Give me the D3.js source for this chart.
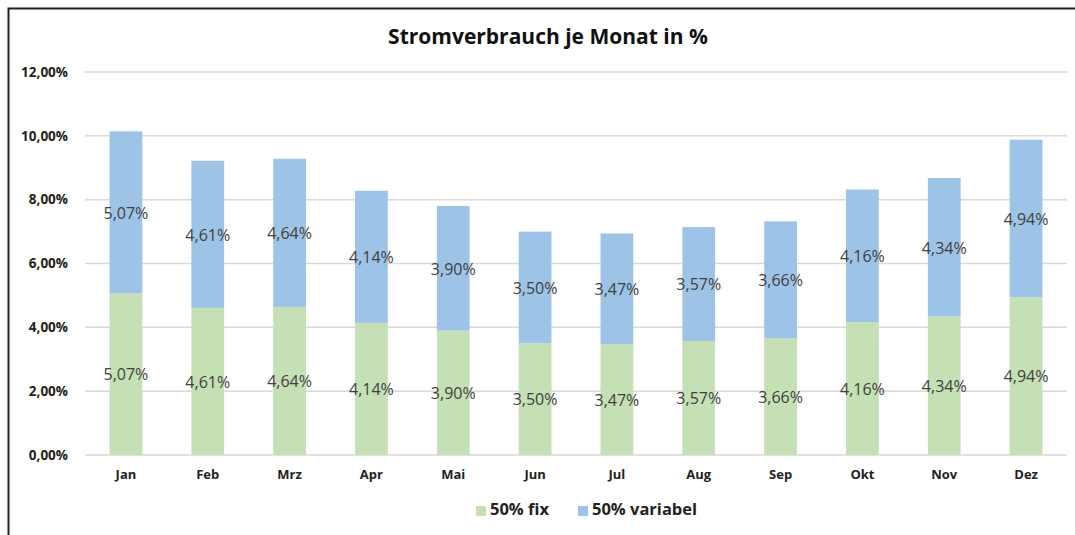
<!DOCTYPE html>
<html>
<head>
<meta charset="utf-8">
<script src="https://cdn.jsdelivr.net/npm/d3@7"></script>
<style>
	body { margin: 0; background: #fff; }
	svg { display: block; font-family: 'Open Sans', 'Noto Sans', sans-serif; }
</style>
</head>
<body>
<div id="chart"></div>
<script>
const months = ['Jan', 'Feb', 'Mrz', 'Apr', 'Mai', 'Jun', 'Jul', 'Aug', 'Sep', 'Okt', 'Nov', 'Dez'];
const fix = [5.07, 4.61, 4.64, 4.14, 3.90, 3.50, 3.47, 3.57, 3.66, 4.16, 4.34, 4.94];
const variabel = [5.07, 4.61, 4.64, 4.14, 3.90, 3.50, 3.47, 3.57, 3.66, 4.16, 4.34, 4.94];
const series_names = ['50% fix', '50% variabel'];
const y_ticks = [0, 2, 4, 6, 8, 10, 12];

const width = 1075;
const height = 535;
const margin = { top: 72, right: 8, bottom: 80, left: 85 };
const colours = ['#C5E0B4', '#9DC3E6'];

const fmt = v => v.toFixed(2).replace('.', ',') + '%';

const rows = months.map((m, i) => ({ month: m, fix: fix[i], variabel: variabel[i] }));
const stacked = d3.stack().keys(['fix', 'variabel'])(rows);

const x = d3.scaleBand()
	.domain(months)
	.range([margin.left, width - margin.right])
	.paddingInner(0.6)
	.paddingOuter(0.3);

const y = d3.scaleLinear()
	.domain([0, 12])
	.range([height - margin.bottom, margin.top]);

const svg = d3.select('#chart').append('svg')
	.attr('width', width)
	.attr('height', height);

// frame: top and left edges
svg.append('path')
	.attr('d', `M8.5,${height} V8.5 H${width}`)
	.attr('fill', 'none')
	.attr('stroke', '#222')
	.attr('stroke-width', 2);

svg.append('text')
	.attr('x', 548)
	.attr('y', 38)
	.attr('text-anchor', 'middle')
	.attr('dominant-baseline', 'middle')
	.attr('font-size', '21px')
	.attr('font-weight', 'bold')
	.attr('fill', '#111')
	.text('Stromverbrauch je Monat in %');

// grid
svg.append('g')
	.selectAll('line')
	.data(y_ticks)
	.enter()
	.append('line')
	.attr('x1', margin.left)
	.attr('x2', width - margin.right)
	.attr('y1', d => y(d))
	.attr('y2', d => y(d))
	.style('stroke', '#d9d9d9')
	.style('stroke-width', 1.5);

const y_axis = svg.append('g')
	.attr('transform', `translate(${margin.left - 14},0)`)
	.call(d3.axisLeft(y).tickValues(y_ticks).tickFormat(fmt).tickSize(0));
y_axis.select('.domain').remove();
y_axis.selectAll('text')
	.attr('font-size', '13.5px')
	.attr('font-weight', 'bold')
	.attr('font-family', "'Open Sans', 'Noto Sans', sans-serif")
	.attr('fill', '#222');

const x_axis = svg.append('g')
	.attr('transform', `translate(0,${height - margin.bottom + 12})`)
	.call(d3.axisBottom(x).tickSize(0));
x_axis.select('.domain').remove();
x_axis.selectAll('text')
	.attr('font-size', '13px')
	.attr('font-weight', 'bold')
	.attr('font-family', "'Open Sans', 'Noto Sans', sans-serif")
	.attr('fill', '#222');

const layers = svg.append('g')
	.selectAll('g')
	.data(stacked)
	.enter()
	.append('g')
	.attr('fill', (d, i) => colours[i]);

layers.selectAll('rect')
	.data(d => d)
	.enter()
	.append('rect')
	.attr('x', d => x(d.data.month))
	.attr('width', x.bandwidth())
	.attr('y', d => y(d[1]))
	.attr('height', d => y(d[0]) - y(d[1]));

layers.selectAll('text')
	.data(d => d)
	.enter()
	.append('text')
	.attr('x', d => x(d.data.month) + x.bandwidth() / 2)
	.attr('y', d => (y(d[0]) + y(d[1])) / 2 + 2)
	.attr('text-anchor', 'middle')
	.attr('dominant-baseline', 'middle')
	.attr('font-size', '16px')
	.attr('fill', '#404040')
	.text(d => fmt(d[1] - d[0]));

// legend
const legend_x = [476, 578];
const legend = svg.append('g')
	.selectAll('g')
	.data(series_names)
	.enter()
	.append('g')
	.attr('transform', (d, i) => `translate(${legend_x[i]},511)`);

legend.append('rect')
	.attr('x', 0)
	.attr('y', -5)
	.attr('width', 10)
	.attr('height', 10)
	.attr('fill', (d, i) => colours[i]);

legend.append('text')
	.attr('x', 14)
	.attr('y', 0)
	.attr('dominant-baseline', 'middle')
	.attr('font-size', '16.5px')
	.attr('font-weight', 'bold')
	.attr('fill', '#222')
	.text(d => d);
</script>
</body>
</html>
